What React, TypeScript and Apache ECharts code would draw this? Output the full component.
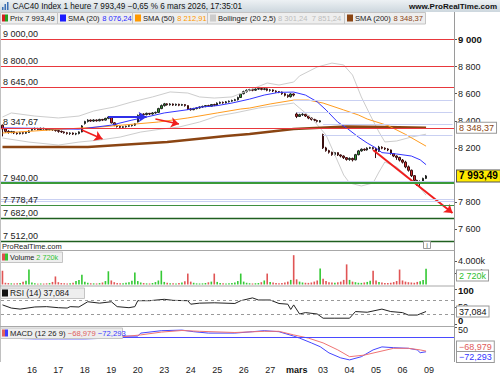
import React, { useEffect, useRef } from "react";
import * as echarts from "echarts";

// ---------- categories (hourly candles) ----------
const dayNames = ["12", "13", "16", "17", "18", "19", "20", "23", "24", "25", "26", "27", "mars", "03", "04", "05", "06", "09"];
const hours = ["09", "10", "11", "12", "13", "14", "15", "16", "17"];
const boldDays = ["mars"];

// ---------- price candles: [open, close, low, high] ----------
const candles: number[][] = [
  [8368, 8340, 8285, 8372],
  // 13
  [8340, 8322, 8312, 8345], [8322, 8315, 8305, 8330], [8315, 8320, 8308, 8326], [8320, 8310, 8302, 8324], [8310, 8305, 8298, 8316],
  [8305, 8312, 8300, 8318], [8312, 8308, 8300, 8317], [8308, 8314, 8303, 8320], [8314, 8325, 8310, 8330],
  // 16
  [8330, 8338, 8325, 8345], [8338, 8342, 8332, 8350], [8342, 8336, 8330, 8348], [8336, 8344, 8332, 8350], [8344, 8340, 8334, 8349],
  [8340, 8335, 8328, 8346], [8335, 8340, 8330, 8345], [8340, 8334, 8326, 8344], [8334, 8328, 8320, 8340],
  // 17
  [8328, 8322, 8312, 8335], [8322, 8318, 8310, 8328], [8318, 8312, 8305, 8322], [8312, 8306, 8298, 8318], [8306, 8310, 8296, 8315],
  [8310, 8302, 8295, 8314], [8302, 8306, 8294, 8312], [8306, 8318, 8300, 8322], [8318, 8362, 8315, 8368],
  // 18
  [8380, 8395, 8372, 8400], [8395, 8405, 8388, 8412], [8405, 8398, 8392, 8410], [8398, 8406, 8392, 8412], [8406, 8400, 8394, 8410],
  [8400, 8410, 8396, 8415], [8410, 8405, 8398, 8414], [8405, 8418, 8402, 8422], [8418, 8428, 8412, 8435],
  // 19
  [8428, 8385, 8380, 8432], [8385, 8368, 8360, 8390], [8368, 8358, 8350, 8372], [8358, 8352, 8345, 8362], [8352, 8356, 8346, 8360],
  [8356, 8360, 8350, 8364], [8360, 8364, 8354, 8368], [8364, 8368, 8358, 8372], [8368, 8378, 8362, 8382],
  // 20
  [8392, 8440, 8388, 8446], [8440, 8450, 8432, 8456], [8450, 8446, 8438, 8455], [8446, 8455, 8440, 8460], [8455, 8450, 8442, 8458],
  [8450, 8458, 8445, 8464], [8458, 8462, 8452, 8468], [8462, 8490, 8458, 8496], [8490, 8512, 8486, 8520],
  // 23
  [8512, 8525, 8505, 8532], [8525, 8518, 8512, 8530], [8518, 8524, 8512, 8530], [8524, 8516, 8510, 8528], [8516, 8522, 8510, 8527],
  [8522, 8515, 8508, 8526], [8515, 8520, 8510, 8525], [8520, 8512, 8505, 8524], [8512, 8488, 8480, 8515],
  // 24
  [8488, 8482, 8475, 8495], [8482, 8490, 8478, 8496], [8490, 8495, 8485, 8500], [8495, 8502, 8490, 8506], [8502, 8506, 8496, 8512],
  [8506, 8512, 8500, 8516], [8512, 8508, 8502, 8518], [8508, 8520, 8504, 8524], [8520, 8515, 8508, 8526],
  // 25
  [8515, 8530, 8510, 8536], [8530, 8536, 8524, 8542], [8536, 8532, 8526, 8542], [8532, 8540, 8528, 8546], [8540, 8545, 8535, 8550],
  [8545, 8550, 8540, 8556], [8550, 8556, 8545, 8562], [8556, 8572, 8550, 8578], [8572, 8598, 8568, 8605],
  // 26
  [8600, 8615, 8595, 8622], [8615, 8625, 8608, 8632], [8625, 8630, 8618, 8636], [8630, 8626, 8618, 8638], [8626, 8634, 8620, 8640],
  [8634, 8638, 8628, 8645], [8638, 8632, 8625, 8644], [8632, 8636, 8626, 8642], [8636, 8625, 8618, 8640],
  // 27
  [8625, 8628, 8615, 8635], [8628, 8620, 8612, 8632], [8620, 8615, 8606, 8625], [8615, 8612, 8604, 8620], [8612, 8600, 8592, 8616],
  [8600, 8588, 8580, 8605], [8588, 8578, 8570, 8595], [8578, 8598, 8572, 8604], [8598, 8590, 8580, 8602],
  // mars 02
  [8450, 8432, 8420, 8462], [8432, 8445, 8428, 8452], [8445, 8448, 8436, 8456], [8448, 8435, 8428, 8452], [8435, 8420, 8412, 8440],
  [8420, 8410, 8402, 8425], [8410, 8402, 8395, 8415], [8402, 8396, 8388, 8408], [8392, 8400, 8388, 8405],
  // 03
  [8298, 8200, 8192, 8305], [8200, 8180, 8172, 8208], [8180, 8168, 8158, 8186], [8168, 8150, 8142, 8172], [8150, 8165, 8145, 8170],
  [8165, 8148, 8140, 8168], [8148, 8140, 8130, 8152], [8140, 8128, 8118, 8145], [8128, 8115, 8106, 8132],
  // 04
  [8115, 8122, 8105, 8130], [8122, 8112, 8100, 8128], [8112, 8150, 8108, 8156], [8150, 8178, 8145, 8185], [8178, 8190, 8172, 8196],
  [8190, 8185, 8178, 8196], [8185, 8198, 8180, 8204], [8198, 8202, 8192, 8208], [8202, 8195, 8188, 8206],
  // 05
  [8195, 8175, 8125, 8200], [8175, 8205, 8170, 8215], [8205, 8198, 8190, 8212], [8198, 8192, 8184, 8204], [8192, 8185, 8176, 8198],
  [8185, 8158, 8150, 8188], [8158, 8140, 8132, 8162], [8140, 8130, 8112, 8145], [8130, 8110, 8100, 8134],
  // 06
  [8110, 8095, 8085, 8118], [8095, 8060, 8050, 8105], [8060, 8035, 8025, 8070], [8035, 7995, 7985, 8040], [7995, 7960, 7945, 8000],
  [7960, 7940, 7920, 7965], [7940, 7945, 7915, 7960], [7945, 7975, 7940, 7980], [7975, 7993.49, 7970, 8000],
];

// ---------- volume (k) ----------
const volume = [
  2400,
  300, 250, 200, 180, 220, 260, 500, 650, 2600,
  350, 200, 150, 180, 160, 200, 250, 450, 1400,
  400, 250, 200, 180, 220, 300, 600, 800, 1700,
  500, 300, 220, 200, 180, 250, 350, 600, 2300,
  700, 400, 250, 200, 220, 300, 400, 650, 2100,
  600, 350, 250, 200, 180, 260, 420, 700, 2400,
  450, 300, 220, 200, 180, 240, 350, 550, 1900,
  500, 300, 200, 180, 200, 260, 380, 500, 1900,
  450, 280, 200, 180, 200, 250, 350, 600, 1900,
  500, 300, 220, 180, 200, 260, 400, 700, 1900,
  450, 350, 250, 200, 250, 350, 500, 800, 5100,
  900, 500, 350, 300, 280, 350, 500, 700, 2800,
  1000, 600, 400, 350, 300, 380, 500, 800, 3500,
  800, 500, 400, 300, 280, 350, 450, 650, 2400,
  700, 450, 350, 280, 250, 300, 420, 600, 2600,
  700, 500, 400, 350, 300, 450, 550, 800, 2720,
];

// ---------- indicators: [candle index, value] ----------
const sma20 = [[0, 8347], [10, 8345], [26, 8338], [37, 8368], [44, 8405], [49, 8428], [55, 8458], [63, 8482], [67, 8500], [73, 8512], [78, 8531], [84, 8560], [89, 8590], [94, 8610], [99, 8612], [103, 8590], [107, 8540], [110, 8480], [114, 8390], [117, 8347], [121, 8280], [124, 8236], [127, 8199], [129, 8165], [134, 8155], [139, 8140], [142, 8112], [144, 8076.24]];
const sma50 = [[0, 8310], [27, 8347], [33, 8354], [53, 8391], [63, 8421], [73, 8458], [81, 8487], [84, 8494], [91, 8524], [99, 8553], [104, 8553], [109, 8531], [116, 8480], [121, 8443], [124, 8413], [131, 8365], [137, 8300], [144, 8212.91]];
const sma200 = [[0, 8207], [29, 8207], [56, 8243], [76, 8288], [84, 8303], [99, 8340], [117, 8358], [130, 8354], [144, 8348.37]];
const bollUpper = [[0, 8428], [3, 8458], [11, 8435], [19, 8421], [26, 8435], [31, 8472], [38, 8502], [44, 8539], [51, 8576], [57, 8613], [63, 8605], [67, 8576], [72, 8568], [78, 8576], [84, 8627], [90, 8679], [94, 8664], [99, 8686], [101, 8731], [107, 8797], [112, 8826], [116, 8812], [119, 8738], [122, 8576], [125, 8443], [128, 8317], [130, 8244], [134, 8251], [139, 8280], [144, 8301.24]];
const bollLower = [[0, 8273], [9, 8243], [19, 8221], [26, 8243], [33, 8258], [40, 8280], [47, 8317], [54, 8339], [60, 8354], [67, 8391], [73, 8435], [79, 8458], [87, 8494], [99, 8531], [101, 8494], [105, 8421], [110, 8295], [113, 8148], [116, 8000], [118, 7941], [122, 7919], [126, 7941], [128, 8022], [130, 8096], [134, 8059], [139, 7963], [142, 7904], [144, 7851.24]];
const rsi = [[0, 56], [3, 47], [6, 44], [11, 50], [15, 51], [19, 48], [22, 47], [23, 51], [26, 50], [29, 65], [33, 61], [37, 65], [39, 51], [43, 48], [45, 51], [46, 68], [50, 68], [55, 72], [58, 69], [63, 68], [64, 58], [67, 61], [72, 62], [79, 60], [81, 68], [85, 76], [87, 70], [91, 70], [94, 60], [97, 58], [98, 43], [99, 56], [101, 30], [103, 34], [107, 30], [109, 18], [113, 18], [118, 18], [120, 37], [124, 35], [129, 44], [132, 37], [136, 34], [138, 27], [141, 27], [144, 37.084]];
const macd = [[0, -4], [3, -5], [11, -8], [19, -8], [28, -8], [37, -4], [41, 6], [46, 6], [47, 21], [54, 33], [61, 36], [65, 28], [70, 21], [79, 21], [85, 28], [89, 33], [94, 28], [99, 6], [101, -4], [105, -28], [108, -47], [111, -78], [115, -103], [118, -113], [122, -97], [126, -63], [129, -48], [133, -52], [138, -55], [141, -63], [142, -77], [144, -72.293]];
const macdSignal = [[0, -2], [3, -3], [19, -6], [28, -5], [41, 3], [47, 12], [54, 26], [61, 34], [67, 30], [79, 24], [89, 30], [94, 30], [99, 12], [104, -4], [109, -28], [114, -63], [118, -97], [123, -89], [128, -72], [133, -55], [138, -55], [142, -63], [144, -68.979]];

// ---------- drawn levels and arrows ----------
const redLevels = [9000, 8800, 8645, 8347.67];
const greenLevels = [7940, 7778.47, 7682, 7512];
const paleFullLevels = [7955, 7822, 7808];
const paleGapLevels = [[99, 8553], [100, 8465], [109, 8378], [109, 8290]];
const redArrows = [[[27, 8332], [34, 8266]], [[52, 8413], [60, 8376]], [[126, 8185], [153, 7720]]];
const blueArrows = [[[36, 8428], [49, 8428]]];

// ---------- axis ticks ----------
const priceTicks = [7600, 7800, 8200, 8400, 8600, 8800, 9000];
const volumeTicks = [0, 2000, 4000];
const rsiTicks = [0, 50, 100];
const rsiBands = [70, 30];
const macdTicks = [0, 50];

const lastPrice = 7993.49;
const lastSma200 = 8348.37;
const lastRsi = 37.084;

const F = "'Liberation Sans', Arial, sans-serif";

const thousands = (s: string) => s.replace(/\B(?=(\d{3})+(?!\d))/g, " ");
const fmtInt = (v: number) => thousands(String(Math.round(v)));
const fmt2 = (v: number) => {
  const [a, b] = v.toFixed(2).split(".");
  return thousands(a) + "," + b;
};

const categories: string[] = ["12 17h"];
dayNames.slice(1).forEach((d) => hours.forEach((h) => categories.push(`${d} ${h}h`)));

const CLEAR = { color: "rgba(0,0,0,0)", width: 0, type: "solid" };

export default function App() {
  const ref = useRef<HTMLDivElement>(null);
  useEffect(() => {
    document.body.style.margin = "0";
    const chart = echarts.init(ref.current!, null, { renderer: "svg" });

    const grids = [
      { left: 1, right: 46, top: 25, height: 225 },
      { left: 1, right: 46, top: 251, height: 33.5 },
      { left: 1, right: 46, top: 287, height: 38 },
      { left: 1, right: 46, top: 327, height: 35 },
    ];

    const mkX = (gi: number, show: boolean) => ({
      type: "category",
      gridIndex: gi,
      data: categories,
      boundaryGap: true,
      axisLine: { show: false },
      axisTick: { show: false },
      splitLine: { show: false },
      axisLabel: show
        ? {
            interval: (i: number, v: string) => i >= 10 && v.endsWith(" 09h"),
            formatter: (v: string) => {
              const d = v.split(" ")[0];
              return boldDays.includes(d) ? `{b|${d}}` : d;
            },
            fontSize: 9,
            fontFamily: F,
            color: "#222",
            margin: 3,
            rich: { b: { fontWeight: "bold", fontSize: 9, fontFamily: F, color: "#111" } },
          }
        : { show: false },
    });

    const richY = {
      b: { fontWeight: "bold", fontSize: 9.5, lineHeight: 9, fontFamily: F, color: "#111" },
      bu: { fontWeight: "bold", fontSize: 9.5, lineHeight: 9, fontFamily: F, color: "#111", padding: [0, 0, 7, 0] },
      bd: { fontWeight: "bold", fontSize: 9.5, lineHeight: 9, fontFamily: F, color: "#111", padding: [3, 0, 0, 0] },
      d: { fontSize: 9, lineHeight: 8, fontFamily: F, color: "#222", padding: [6, 0, 0, 0] },
    };

    const mkY = (gi: number, min: number, max: number, ticks: number[], fmt: (v: number) => string) => ({
      type: "value",
      gridIndex: gi,
      position: "right",
      min,
      max,
      splitLine: { show: false },
      axisLine: { show: false },
      axisTick: { show: true, length: 3, customValues: ticks, lineStyle: { color: "#555" } },
      axisLabel: {
        customValues: ticks,
        formatter: fmt,
        fontSize: 9,
        lineHeight: 8,
        fontFamily: F,
        color: "#222",
        margin: 4,
        rich: richY,
      },
    });

    const levelLabel = (v: number) => ({
      show: true,
      position: "insideStartTop",
      formatter: fmt2(v),
      color: "#222",
      fontSize: 9,
      fontFamily: F,
      distance: [2, 1],
    });

    const greenStyles = [
      { color: "#3a9a3a", width: 2 },
      { color: "#3f8f3f", width: 1.2 },
      { color: "#1f5f1f", width: 1.4 },
      { color: "#1f5f1f", width: 1.4 },
    ];

    const levelData: any[] = [
      ...paleFullLevels.map((v) => ({ yAxis: v, lineStyle: { color: "#c9d0f2", width: 1, type: "solid" }, label: { show: false } })),
      ...paleGapLevels.map(([i, v]) => [
        { coord: [i, v], lineStyle: { color: "#c9d0f2", width: 1, type: "solid" }, label: { show: false } },
        { coord: [153, v] },
      ]),
      ...redLevels.map((v) => ({ yAxis: v, lineStyle: { color: "#e8383d", width: 1, type: "solid" }, label: levelLabel(v) })),
      ...greenLevels.map((v, i) => ({ yAxis: v, lineStyle: { ...greenStyles[i], type: "solid" }, label: levelLabel(v) })),
    ];

    const arrowData: any[] = [
      ...redArrows.map(([a, b], k) => [
        { coord: a, lineStyle: { color: "#f01e1e", width: k === 2 ? 2 : 1.5, type: "solid" } },
        { coord: b },
      ]),
      ...blueArrows.map(([a, b]) => [
        { coord: a, lineStyle: { color: "#2f2fe8", width: 2, type: "solid" } },
        { coord: b },
      ]),
    ];

    const tagLabel = (text: string, color: string, extra: any = {}) => ({
      show: true,
      position: "end",
      distance: 3,
      formatter: text,
      backgroundColor: "#fff",
      borderColor: "#999",
      borderWidth: 1,
      padding: [0, 2, 0, 2],
      lineHeight: 10,
      color,
      fontSize: 9,
      fontFamily: F,
      ...extra,
    });

    const lineSeries = (name: string, data: number[][], color: string, width: number, gi = 0, extra: any = {}) => ({
      type: "line",
      name,
      xAxisIndex: gi,
      yAxisIndex: gi,
      data,
      symbol: "none",
      smooth: false,
      lineStyle: { color, width },
      emphasis: { disabled: true },
      silent: true,
      ...extra,
    });

    const tagSeries = (name: string, gi: number, value: number, label: any) => ({
      type: "line",
      name,
      xAxisIndex: gi,
      yAxisIndex: gi,
      data: [],
      symbol: "none",
      silent: true,
      z: 20,
      markLine: {
        silent: true,
        symbol: "none",
        animation: false,
        data: [{ yAxis: value, lineStyle: CLEAR, label }],
      },
    });

    const legendBox = (x: number, y: number, w: number, h: number) => ({
      type: "rect",
      z: 100,
      shape: { x: x + 0.5, y: y + 0.5, width: w, height: h },
      style: { fill: "#eeeeee", stroke: "#c4c4c4", lineWidth: 1 },
    });
    const sq = (x: number, y: number, c1: string, c2?: string) => {
      const els: any[] = [{ type: "rect", z: 101, shape: { x, y, width: c2 ? 3 : 6, height: 7 }, style: { fill: c1 } }];
      if (c2) els.push({ type: "rect", z: 101, shape: { x: x + 3, y, width: 3, height: 7 }, style: { fill: c2 } });
      return els;
    };
    const richText = (x: number, y: number, text: string, rich: any, size: number, extra: any = {}) => ({
      type: "text",
      z: 102,
      x,
      y,
      style: { text, rich, fontSize: size, fontFamily: F, fill: "#222", verticalAlign: "middle", ...extra },
    });
    const hline = (x1: number, x2: number, y: number, color: string) => ({
      type: "line",
      z: 90,
      shape: { x1, y1: y, x2, y2: y },
      style: { stroke: color, lineWidth: 1 },
    });
    const vline = (x: number, y1: number, y2: number, color: string) => ({
      type: "line",
      z: 90,
      shape: { x1: x, y1, x2: x, y2 },
      style: { stroke: color, lineWidth: 1 },
    });

    const LS = 7.6;
    const tagBox = { backgroundColor: "#fff", borderColor: "#999", borderWidth: 1, padding: [0, 2, 0, 2], lineHeight: 10 };
    const graphics: any[] = [
      {
        type: "rect",
        z: 90,
        shape: { x: 0, y: 0, width: 500, height: 12 },
        style: {
          fill: new echarts.graphic.LinearGradient(0, 0, 0, 1, [
            { offset: 0, color: "#edf1f4" },
            { offset: 1, color: "#cdd7de" },
          ]),
        },
      },
      { type: "rect", z: 91, shape: { x: 2, y: 7, width: 1.5, height: 3 }, style: { fill: "#3b6fb5" } },
      { type: "rect", z: 91, shape: { x: 4.5, y: 4, width: 1.5, height: 6 }, style: { fill: "#3b6fb5" } },
      { type: "rect", z: 91, shape: { x: 7, y: 2, width: 1.5, height: 8 }, style: { fill: "#3b6fb5" } },
      richText(12.5, 6.5, "CAC40 Index 1 heure 7 993,49 \u22120,65 % 6 mars 2026, 17:35:01", {}, 8.2, { fill: "#111" }),
      richText(497, 6.5, "www.ProRealTime.com", {}, 8, { fill: "#111", fontWeight: "bold", align: "right" }),
      // legend row
      legendBox(0, 12, 57, 11.5),
      legendBox(57, 12, 75, 11.5),
      legendBox(132, 12, 75, 11.5),
      legendBox(207, 12, 137, 11.5),
      legendBox(344, 12, 81, 11.5),
      ...sq(2, 14.5, "#d42020", "#22a022"),
      ...sq(60, 14.5, "#1a1aff"),
      ...sq(135, 14.5, "#ff9900"),
      ...sq(210, 14.5, "#cccccc"),
      ...sq(347, 14.5, "#8b4513"),
      richText(10, 18.5, "Prix 7 993,49", {}, LS),
      richText(68, 18.5, "{k|SMA (20)} {v|8 076,24}", { k: { fill: "#222", fontSize: LS, fontFamily: F }, v: { fill: "#2a2aff", fontSize: LS, fontFamily: F } }, LS),
      richText(143, 18.5, "{k|SMA (50)} {v|8 212,91}", { k: { fill: "#222", fontSize: LS, fontFamily: F }, v: { fill: "#ff9900", fontSize: LS, fontFamily: F } }, LS),
      richText(218, 18.5, "{k|Bollinger (20 2,5)} {v|8 301,24  7 851,24}", { k: { fill: "#222", fontSize: LS, fontFamily: F }, v: { fill: "#bdbdbd", fontSize: LS, fontFamily: F } }, LS),
      richText(355, 18.5, "{k|SMA (200)} {v|8 348,37}", { k: { fill: "#222", fontSize: LS, fontFamily: F }, v: { fill: "#8b4513", fontSize: LS, fontFamily: F } }, LS),
      // frame lines
      vline(454.5, 12, 362, "#9a9a9a"),
      vline(0.5, 25, 362, "#c0c0c0"),
      hline(0, 454.5, 250.5, "#a8a8a8"),
      hline(0, 454.5, 286, "#a8a8a8"),
      hline(0, 454.5, 326.5, "#a8a8a8"),
      richText(2, 246.5, "ProRealTime.com", {}, 7.5, { fill: "#222" }),
      { type: "rect", z: 100, shape: { x: 423.5, y: 241.5, width: 7, height: 7 }, style: { fill: "#fff", stroke: "#999", lineWidth: 1 } },
      richText(427, 245.2, "i", {}, 7, { fill: "#666", align: "center" }),
      // volume legend
      legendBox(0, 251.5, 62, 10.5),
      ...sq(2, 253.5, "#e05050", "#33c433"),
      richText(10, 257, "{k|Volume} {v|2 720k}", { k: { fill: "#222", fontSize: 7.3, fontFamily: F }, v: { fill: "#33c433", fontSize: 7.3, fontFamily: F } }, 7.3),
      // rsi legend
      legendBox(0, 287.5, 84, 10.5),
      ...sq(2, 289.5, "#111"),
      richText(10, 293, "RSI (14) 37,084", {}, 8.4),
      // macd legend
      legendBox(0, 327.5, 122, 10.5),
      ...sq(2, 329.5, "#e06060", "#3a3aff"),
      richText(10, 333, "{k|MACD (12 26 9)} {r|\u221268,979} {b|\u221272,293}", {
        k: { fill: "#222", fontSize: 7.7, fontFamily: F },
        r: { fill: "#e06060", fontSize: 7.7, fontFamily: F },
        b: { fill: "#3a3aff", fontSize: 7.7, fontFamily: F },
      }, 7.7),
      // right-side value tags that the platform shifts apart
      richText(457, 275.5, "2 720k", {}, 9, { fill: "#2fc02f", ...tagBox }),
      richText(457, 346.5, "\u221268,979", {}, 9, { fill: "#e05a5a", ...tagBox }),
      richText(457, 357, "\u221272,293", {}, 9, { fill: "#3333ff", ...tagBox }),
    ];

    const option: any = {
      animation: false,
      backgroundColor: "#fff",
      textStyle: { fontFamily: F },
      grid: grids,
      xAxis: [mkX(0, false), mkX(1, false), mkX(2, false), mkX(3, true)],
      yAxis: [
        mkY(0, 7446.5, 9107, priceTicks, (v: number) => (v === 9000 ? `{b|${fmtInt(v)}}` : fmtInt(v))),
        mkY(1, 0, 5826, volumeTicks, (v: number) => (v === 0 ? "{bu|0}" : `${v / 1000}.000k`)),
        mkY(2, -1.43, 107.14, rsiTicks, (v: number) => (v === 50 ? "50" : v === 100 ? "{bd|100}" : "{bu|0}")),
        mkY(3, -123.5, 51.5, macdTicks, (v: number) => (v === 0 ? "{b|0}" : "{d|50}")),
      ],
      series: [
        lineSeries("bollUpper", bollUpper, "#cdcdcd", 1),
        lineSeries("bollLower", bollLower, "#cdcdcd", 1),
        lineSeries("sma200", sma200, "#8b4513", 2.5),
        lineSeries("sma50", sma50, "#ff9c1f", 1),
        lineSeries("sma20", sma20, "#3535ff", 1, 0, {
          markLine: {
            silent: true,
            symbol: ["none", "arrow"],
            symbolSize: 8,
            animation: false,
            label: { show: false },
            data: arrowData,
          },
        }),
        {
          type: "candlestick",
          name: "Prix",
          xAxisIndex: 0,
          yAxisIndex: 0,
          data: candles,
          barWidth: "68%",
          silent: true,
          itemStyle: {
            color: "#2ca02c",
            color0: "#d42a2a",
            borderColor: "#222",
            borderColor0: "#3a1010",
            borderWidth: 1,
          },
          markLine: {
            silent: true,
            symbol: "none",
            animation: false,
            label: { show: false },
            data: levelData,
          },
        },
        tagSeries("sma200Tag", 0, lastSma200, tagLabel(fmt2(lastSma200), "#8b4513")),
        tagSeries("priceTag", 0, lastPrice, tagLabel(fmt2(lastPrice), "#000", {
          backgroundColor: "#ffea00",
          borderColor: "#555",
          fontWeight: "bold",
          fontSize: 10,
          lineHeight: 11,
        })),
        {
          type: "bar",
          name: "Volume",
          xAxisIndex: 1,
          yAxisIndex: 1,
          data: volume,
          barWidth: "55%",
          silent: true,
          itemStyle: {
            color: (p: any) => (candles[p.dataIndex][1] >= candles[p.dataIndex][0] ? "#35c935" : "#e05555"),
          },
        },
        lineSeries("RSI", rsi, "#222", 1, 2, {
          markLine: {
            silent: true,
            symbol: "none",
            animation: false,
            data: rsiBands.map((v) => ({ yAxis: v, lineStyle: { color: "#999", width: 1, type: [3, 3] }, label: { show: false } })),
          },
        }),
        tagSeries("rsiTag", 2, lastRsi, tagLabel("37,084", "#111")),
        lineSeries("MACD", macd, "#4545ff", 1, 3, {
          markLine: {
            silent: true,
            symbol: "none",
            animation: false,
            data: [{ yAxis: 0, lineStyle: { color: "#4a4aff", width: 1, type: "solid" }, label: { show: false } }],
          },
        }),
        lineSeries("Signal", macdSignal, "#f07474", 1, 3),
      ],
      graphic: { elements: graphics },
    };

    chart.setOption(option);
    return () => chart.dispose();
  }, []);

  return <div ref={ref} style={{ position: "fixed", left: 0, top: 0, width: 500, height: 375 }} />;
}
